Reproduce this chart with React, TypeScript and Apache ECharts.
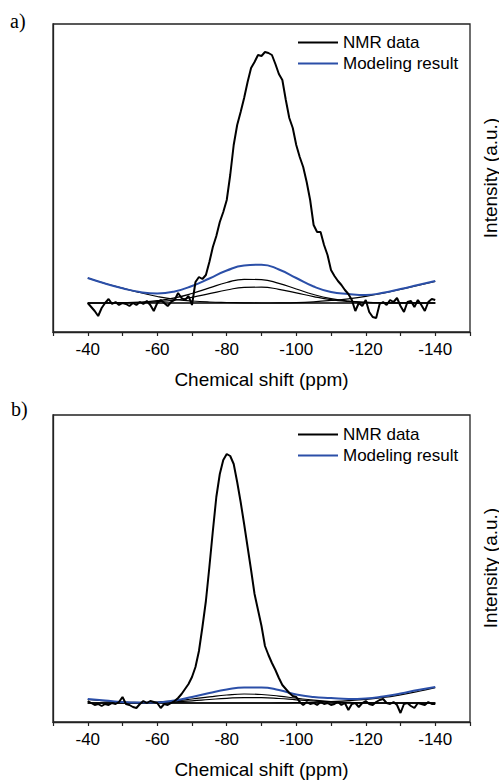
import React, { useEffect, useRef } from "react";
import * as echarts from "echarts";

// chemical shift grids (ppm)
const ppmFine: number[] = Array.from({ length: 101 }, (_, i) => -40 - i);
const ppmCoarse: number[] = Array.from({ length: 21 }, (_, i) => -40 - 5 * i);
const ppmEnds: number[] = [-40, -140];

const xTickLabels: number[] = [-40, -60, -80, -100, -120, -140];
const legendNames: string[] = ["NMR data", "Modeling result"];

// ---------- panel a ----------
const nmrA: number[] = [
  29, 25, 21, 16, 24, 29, 33, 28, 30, 27,
  29, 28, 26, 29, 27, 30, 28, 31, 27, 21,
  29, 32, 29, 26, 30, 32, 39, 34, 32, 36,
  27, 50, 55, 53, 57, 70, 85, 96, 110, 120,
  132, 157, 187, 207, 220, 234, 250, 264, 270, 277,
  276, 280, 279, 277, 268, 258, 252, 232, 214, 204,
  187, 175, 165, 150, 132, 107, 100, 100, 87, 77,
  62, 56, 51, 47, 42, 38, 32, 21, 29, 26,
  32, 20, 15, 14, 28, 30, 27, 32, 30, 34,
  26, 20, 30, 31, 25, 32, 27, 21, 30, 33,
  32,
];
const modelA: number[] = [54, 48.5, 43.8, 40, 38.5, 40.5, 46, 53.5, 61.5, 66.5, 67.3, 62.5, 54, 45.5, 40, 38, 37, 39.3, 43, 47, 51];
const baseA: number[] = [29, 29];
const leftA: number[] = [54, 48.5, 43.8, 39.5, 35.5, 32.6, 31, 30, 29.5, 29.2, 29, 29, 29, 29, 29, 29, 29, 29, 29, 29, 29];
const comp1A: number[] = [29, 29.1, 29.3, 29.9, 31.3, 34.1, 38.5, 44.1, 49.5, 52.7, 52.3, 48.6, 43, 37.5, 33.4, 30.9, 29.7, 29.2, 29.1, 29, 29];
const comp2A: number[] = [29, 29, 29.1, 29.5, 30.3, 31.9, 34.7, 38.3, 42, 44.6, 44.8, 42.7, 39.1, 35.4, 32.4, 30.6, 29.6, 29.2, 29.1, 29, 29];
const rightA: number[] = [29, 29, 29, 29, 29, 29, 29, 29, 29, 29, 29, 29.1, 29.4, 30.2, 31.5, 33.2, 35.6, 38.8, 42.6, 46.6, 50.5];

// ---------- panel b ----------
const nmrB: number[] = [
  21, 19, 17, 18, 16, 18, 17, 19, 18, 20,
  25, 18, 17, 15, 14, 18, 21, 19, 21, 20,
  19, 14, 18, 17, 19, 21, 24, 28, 33, 38,
  45, 55, 71, 95, 121, 155, 191, 225, 248, 262,
  268, 266, 258, 240, 220, 198, 175, 152, 128, 112,
  96, 76, 67, 59, 52, 44, 37, 33, 29, 26,
  25, 20, 17, 20, 18, 19, 17, 20, 18, 19,
  17, 18, 20, 17, 19, 12, 18, 19, 15, 19,
  21, 18, 17, 20, 22, 23, 19, 18, 20, 17,
  9, 18, 19, 16, 14, 19, 18, 17, 20, 18,
  18,
];
const modelB: number[] = [23, 21.5, 20, 19.5, 19.6, 21.5, 25, 29, 32.5, 34.5, 34.5, 32, 27.5, 25, 24, 23, 23.5, 25.5, 28.5, 32, 35];
const baseB: number[] = [19, 19];
const leftB: number[] = [22.5, 21, 20, 19.5, 19.2, 19.1, 19, 19, 19, 19, 19, 19, 19, 19, 19, 19, 19, 19, 19, 19, 19];
const comp1B: number[] = [19, 19, 19, 19.1, 20, 21.2, 23, 25.1, 27, 28, 27.5, 25.9, 23.8, 21.8, 20.4, 19.6, 19.2, 19, 19, 19, 19];
const comp2B: number[] = [19, 19, 19, 19, 19.5, 20.2, 21.2, 22.5, 23.7, 24.4, 24.3, 23.5, 22.2, 21, 20, 19.4, 19.1, 19, 19, 19, 19];
const rightB: number[] = [19, 19, 19, 19, 19, 19, 19, 19, 19, 19, 19, 19.1, 19.3, 19.7, 20.4, 21.3, 22.6, 24.5, 27.2, 30.5, 34.3];

const FONT = "'Liberation Sans', Arial, sans-serif";
const BLUE = "#2b4fa8";

const pair = (xs: number[], ys: number[]) => xs.map((x, i) => [x, ys[i]]);

function panelSeries(k: number, nmr: number[], model: number[], comps: number[][], base: number[]) {
  const thin = (name: string, data: number[][], smooth: boolean) => ({
    name,
    type: "line",
    xAxisIndex: k,
    yAxisIndex: k,
    data,
    smooth,
    showSymbol: false,
    symbol: "none",
    color: "#000",
    lineStyle: { color: "#000", width: 1.2 },
    silent: true,
    z: 2,
  });
  const out: any[] = [thin("baseline", pair(ppmEnds, base), false)];
  comps.forEach((c, i) => out.push(thin("component " + (i + 1), pair(ppmCoarse, c), true)));
  out.push({
    name: legendNames[1],
    type: "line",
    xAxisIndex: k,
    yAxisIndex: k,
    data: pair(ppmCoarse, model),
    smooth: true,
    symbol: "none",
    showSymbol: false,
    color: BLUE,
    itemStyle: { color: BLUE },
    lineStyle: { color: BLUE, width: 2 },
    z: 3,
  });
  out.push({
    name: legendNames[0],
    type: "line",
    xAxisIndex: k,
    yAxisIndex: k,
    data: pair(ppmFine, nmr),
    smooth: false,
    symbol: "none",
    showSymbol: false,
    color: "#000",
    itemStyle: { color: "#000" },
    lineStyle: { color: "#000", width: 2 },
    z: 4,
  });
  return out;
}

export default function App() {
  const ref = useRef<HTMLDivElement>(null);
  useEffect(() => {
    if (!ref.current) return;
    const chart = echarts.init(ref.current, undefined, { renderer: "svg" });
    const grids = [
      { left: 53, top: 24, width: 417, height: 308 },
      { left: 53, top: 415, width: 417, height: 307 },
    ];
    const yMax = [308, 307];
    const option: any = {
      animation: false,
      backgroundColor: "#fff",
      grid: grids.map((g) => ({ ...g, show: true, borderColor: "#222", borderWidth: 1.3, backgroundColor: "transparent" })),
      xAxis: [0, 1].map((i) => ({
        gridIndex: i,
        type: "value",
        min: -150,
        max: -30,
        inverse: true,
        interval: 10,
        axisLine: { show: true, lineStyle: { color: "#222", width: 1.3 } },
        axisTick: { show: true, inside: false, length: 4, lineStyle: { color: "#222", width: 1.2 } },
        axisLabel: {
          formatter: (v: number) => (xTickLabels.indexOf(v) >= 0 ? String(v) : ""),
          color: "#000",
          fontSize: 17,
          fontFamily: FONT,
          margin: 9,
        },
        splitLine: { show: false },
        name: "Chemical shift (ppm)",
        nameLocation: "middle",
        nameGap: 38,
        nameTextStyle: { fontSize: 19, color: "#000", fontFamily: FONT },
      })),
      yAxis: [0, 1].map((i) => ({
        gridIndex: i,
        type: "value",
        min: 0,
        max: yMax[i],
        axisLine: { show: true, lineStyle: { color: "#222", width: 1.3 } },
        axisTick: { show: false },
        axisLabel: { show: false },
        splitLine: { show: false },
      })),
      legend: [34, 426].map((top) => ({
        top,
        left: 298,
        orient: "vertical",
        icon: "rect",
        itemWidth: 40,
        itemHeight: 2,
        itemGap: 4,
        padding: 0,
        data: legendNames,
        selectedMode: false,
        textStyle: { fontSize: 17, color: "#000", fontFamily: FONT, lineHeight: 17 },
      })),
      graphic: [
        { type: "text", left: 10, top: 11, style: { text: "a)", font: "20px 'Liberation Serif', 'Times New Roman', serif", fill: "#000" } },
        { type: "text", left: 11, top: 399, style: { text: "b)", font: "20px 'Liberation Serif', 'Times New Roman', serif", fill: "#000" } },
        {
          type: "text",
          x: 490,
          y: 178,
          rotation: Math.PI / 2,
          style: { text: "Intensity (a.u.)", font: "19px " + FONT, fill: "#000", align: "center", verticalAlign: "middle" },
        },
        {
          type: "text",
          x: 490,
          y: 568,
          rotation: Math.PI / 2,
          style: { text: "Intensity (a.u.)", font: "19px " + FONT, fill: "#000", align: "center", verticalAlign: "middle" },
        },
      ],
      series: [
        ...panelSeries(0, nmrA, modelA, [leftA, comp1A, comp2A, rightA], baseA),
        ...panelSeries(1, nmrB, modelB, [leftB, comp1B, comp2B, rightB], baseB),
      ],
    };
    chart.setOption(option);
    return () => chart.dispose();
  }, []);
  return <div ref={ref} style={{ position: "fixed", left: 0, top: 0, width: 499, height: 780 }} />;
}
